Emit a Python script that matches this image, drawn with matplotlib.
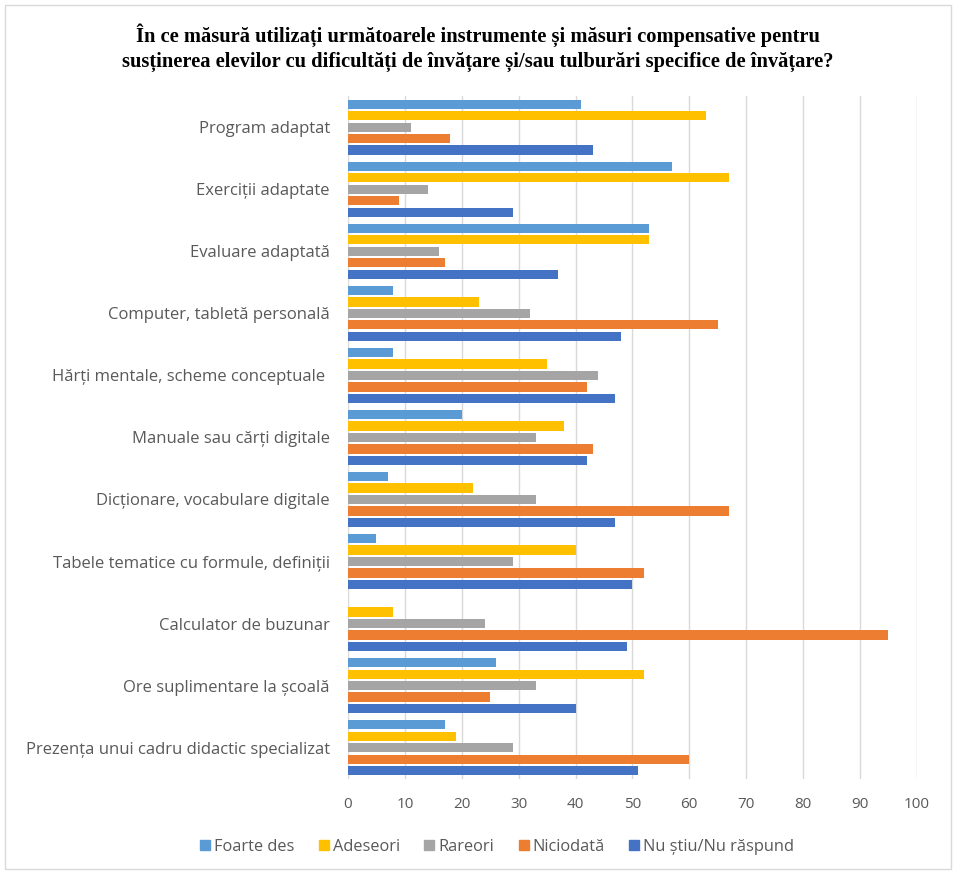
import matplotlib
matplotlib.use("agg")
import matplotlib.pyplot as plt
import matplotlib.patches as mpatches
import numpy as np

categories = [
    "Program adaptat",
    "Exerciții adaptate",
    "Evaluare adaptată",
    "Computer, tabletă personală",
    "Hărți mentale, scheme conceptuale ",
    "Manuale sau cărți digitale",
    "Dicționare, vocabulare digitale",
    "Tabele tematice cu formule, definiții",
    "Calculator de buzunar",
    "Ore suplimentare la școală",
    "Prezența unui cadru didactic specializat",
]

series_names = ["Foarte des", "Adeseori", "Rareori", "Niciodată", "Nu știu/Nu răspund"]

foarte_des = [41, 57, 53, 8, 8, 20, 7, 5, 0, 26, 17]
adeseori = [63, 67, 53, 23, 35, 38, 22, 40, 8, 52, 19]
rareori = [11, 14, 16, 32, 44, 33, 33, 29, 24, 33, 29]
niciodata = [18, 9, 17, 65, 42, 43, 67, 52, 95, 25, 60]
nu_stiu = [43, 29, 37, 48, 47, 42, 47, 50, 49, 40, 51]

colors = ["#5B9BD5", "#FFC000", "#A5A5A5", "#ED7D31", "#4472C4"]
text_col = "#595959"
font = "Open Sans"

fig = plt.figure(figsize=(9.56, 8.74), dpi=100)
ax = fig.add_axes([0.364, 0.109, 0.595, 0.781])

y = np.arange(len(categories))
slot = 0.185
bar_h = 0.15
all_series = [foarte_des, adeseori, rareori, niciodata, nu_stiu]
for i, (vals, name, c) in enumerate(zip(all_series, series_names, colors)):
    ax.barh(y + (i - 2) * slot, vals, height=bar_h, color=c, label=name, zorder=3)

ax.set_xlim(0, 100)
ax.set_ylim(len(categories) - 0.5, -0.5)
ax.set_xticks(range(0, 101, 10))
ax.set_yticks(y)
ax.set_yticklabels(categories)
ax.tick_params(axis="both", length=0, labelcolor=text_col, labelfontfamily=font)
ax.tick_params(axis="x", pad=13, labelsize=11)
ax.tick_params(axis="y", pad=13, labelsize=12)
ax.grid(axis="x", color="#d9d9d9", linewidth=1, zorder=0)
for s in ax.spines.values():
    s.set_visible(False)

fig.suptitle("În ce măsură utilizați următoarele instrumente și măsuri compensative pentru\n"
             "susținerea elevilor cu dificultăți de învățare și/sau tulburări specifice de învățare?",
             x=0.5, y=0.973, fontsize=14.8, fontweight="bold", family="Liberation Serif",
             linespacing=1.3)

handles = [mpatches.Patch(color=c, label=n) for c, n in zip(colors, series_names)]
leg = fig.legend(handles=handles, loc="center", bbox_to_anchor=(0.52, 0.031), ncol=5,
                 frameon=False, handlelength=0.6, handleheight=0.6, handletextpad=0.25,
                 columnspacing=1.5, prop={"family": font, "size": 11.8})
for t in leg.get_texts():
    t.set_color(text_col)

fig.patches.append(mpatches.Rectangle((0.005, 0.006), 0.99, 0.988, transform=fig.transFigure,
                                      fill=False, edgecolor="#d9d9d9", linewidth=1))

fig.savefig("out.png", dpi=100)
